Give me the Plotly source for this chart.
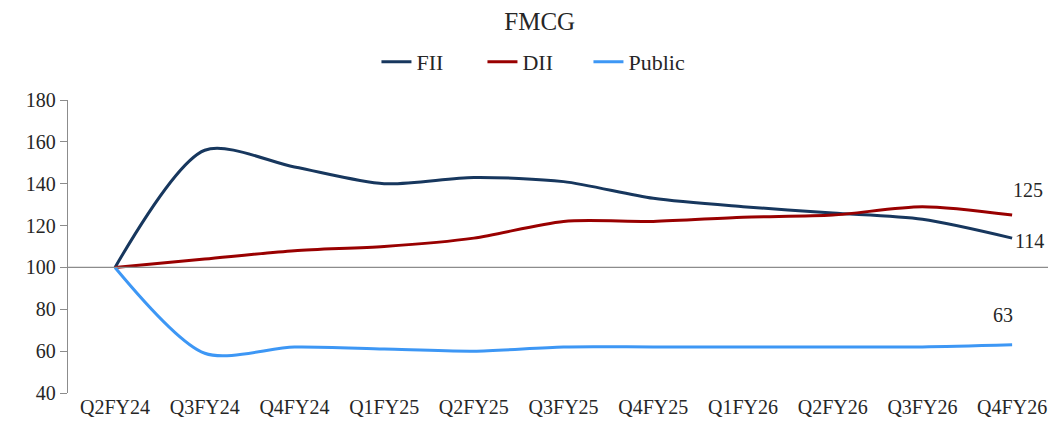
import plotly.graph_objects as go

categories = ["Q2FY24", "Q3FY24", "Q4FY24", "Q1FY25", "Q2FY25", "Q3FY25",
              "Q4FY25", "Q1FY26", "Q2FY26", "Q3FY26", "Q4FY26"]
fii = [100, 156, 148, 140, 143, 141, 133, 129, 126, 123, 114]
dii = [100, 104, 108, 110, 114, 122, 122, 124, 125, 129, 125]
public = [100, 59, 62, 61, 60, 62, 62, 62, 62, 62, 63]
y_ticks = [40, 60, 80, 100, 120, 140, 160, 180]

FONT = "Palatino Linotype, Book Antiqua, Liberation Serif, serif"
TXT = "#262626"

fig = go.Figure()
for name, vals, col in [("FII", fii, "#17375E"), ("DII", dii, "#990000"), ("Public", public, "#3D97F5")]:
    fig.add_trace(go.Scatter(x=categories, y=vals, name=name, mode="lines",
                             line=dict(color=col, width=3, shape="spline", smoothing=0.8)))

# end labels
fig.add_annotation(x=categories[-1], y=dii[-1], text=str(dii[-1]), showarrow=False,
                   xshift=16, yshift=25, font=dict(size=20, color=TXT, family=FONT))
fig.add_annotation(x=categories[-1], y=fii[-1], text=str(fii[-1]), showarrow=False,
                   xshift=17, yshift=-3, font=dict(size=20, color=TXT, family=FONT))
fig.add_annotation(x=categories[-1], y=public[-1], text=str(public[-1]), showarrow=False,
                   xshift=-9, yshift=30, font=dict(size=20, color=TXT, family=FONT))

fig.add_shape(type="line", xref="paper", x0=0, x1=1, yref="y", y0=100, y1=100,
              line=dict(color="#8C8C8C", width=1.3))

fig.update_layout(
    width=1048, height=433,
    margin=dict(l=68, r=0, t=100, b=40),
    paper_bgcolor="white", plot_bgcolor="white",
    font=dict(family=FONT, size=20, color=TXT),
    title=dict(text="FMCG", x=0.515, xanchor="center", y=0.952, yanchor="middle",
               font=dict(size=25, family=FONT, color=TXT)),
    legend=dict(orientation="h", x=0.477, xanchor="center", y=1.13, yanchor="middle",
                font=dict(size=22, family=FONT, color=TXT),
                entrywidth=61, entrywidthmode="pixels"),
    showlegend=True,
    xaxis=dict(type="category", range=[-0.524, 10.40], showgrid=False, showline=False,
               ticks="", tickfont=dict(size=20, family=FONT, color=TXT)),
    yaxis=dict(range=[40, 180], tickvals=y_ticks, showgrid=False, zeroline=False,
               showline=True, linecolor="#8C8C8C", linewidth=1.3, ticks="outside",
               ticklen=7, tickcolor="#8C8C8C", tickfont=dict(size=20, family=FONT, color=TXT)),
)

fig.write_html("out.html", config={"displayModeBar": False},
               post_script="document.body.style.margin='0';")
